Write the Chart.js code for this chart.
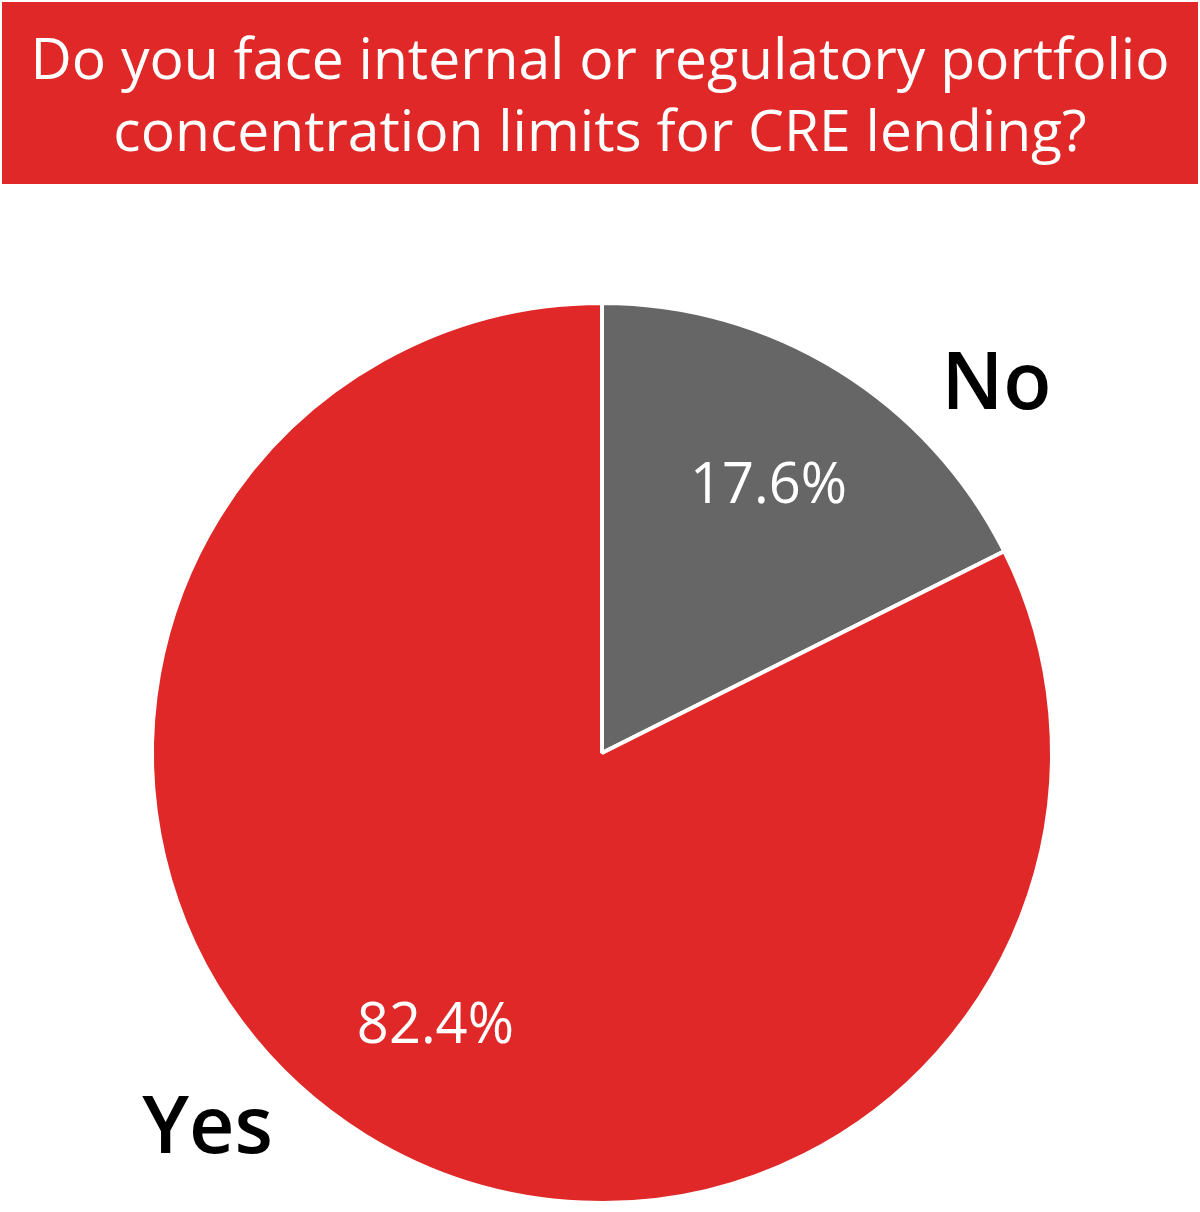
<!DOCTYPE html>
<html>
<head>
<meta charset="utf-8">
<title>CRE concentration limits</title>
<script src="https://cdn.jsdelivr.net/npm/chart.js@4.4.1/dist/chart.umd.min.js"></script>
<style>
    html, body { margin: 0; padding: 0; background: #ffffff; }
    #page { position: relative; width: 1200px; height: 1212px; overflow: hidden; }
    #banner {
        position: absolute; left: 2px; top: 2px; width: 1196px; height: 182px;
        background: #df2827; color: #ffffff; z-index: 2;
        font-family: "Open Sans", sans-serif; font-weight: 500; font-size: 57px; line-height: 72px;
        text-align: center; box-sizing: border-box; padding-top: 19px;
    }
    #chartBox { position: absolute; left: 0; top: 0; width: 1200px; height: 1212px; }
</style>
</head>
<body>
<div id="page">
    <div id="banner">Do you face internal or regulatory portfolio<br>concentration limits for CRE lending?</div>
    <div id="chartBox"><canvas id="pieChart"></canvas></div>
</div>
<script>
// Survey answers, share of respondents (%)
const answers = ['No', 'Yes'];
const shares = [17.6, 82.4];
const sliceColors = ['#666666', '#df2827'];

// Draws percentage inside each slice and the answer name outside it
const sliceLabels = {
    id: 'sliceLabels',
    afterDatasetsDraw(chart, args, opts) {
        const { ctx } = chart;
        const arcs = chart.getDatasetMeta(0).data;
        arcs.forEach((arc, i) => {
            const mid = (arc.startAngle + arc.endAngle) / 2;
            const r = arc.outerRadius;

            ctx.save();
            ctx.textAlign = 'center';
            ctx.textBaseline = 'alphabetic';

            // percentage, white, inside
            ctx.fillStyle = '#ffffff';
            ctx.font = '500 ' + opts.valueSize + 'px "Open Sans", sans-serif';
            ctx.fillText(shares[i].toFixed(1) + '%',
                arc.x + Math.cos(mid) * r * opts.valueRadius,
                arc.y + Math.sin(mid) * r * opts.valueRadius + opts.valueSize * 0.36);

            // category name, black, outside
            const a = mid + opts.nameShift * Math.PI / 180;
            ctx.fillStyle = '#000000';
            ctx.font = '600 ' + opts.nameSize + 'px "Open Sans", sans-serif';
            ctx.fillText(answers[i],
                arc.x + Math.cos(a) * r * opts.nameRadius,
                arc.y + Math.sin(a) * r * opts.nameRadius + opts.nameSize * 0.36);
            ctx.restore();
        });
    }
};

new Chart(document.getElementById('pieChart'), {
    type: 'pie',
    data: {
        labels: answers,
        datasets: [{
            data: shares,
            backgroundColor: sliceColors,
            borderColor: '#ffffff',
            borderWidth: 4
        }]
    },
    options: {
        responsive: true,
        maintainAspectRatio: false,
        animation: false,
        layout: { padding: { top: 301, bottom: 7, left: 150, right: 146 } },
        plugins: {
            legend: { display: false },
            tooltip: { enabled: false },
            sliceLabels: {
                valueSize: 56,
                valueRadius: 0.705,
                nameSize: 79,
                nameRadius: 1.205,
                nameShift: 15
            }
        }
    },
    plugins: [sliceLabels]
});
</script>
</body>
</html>
